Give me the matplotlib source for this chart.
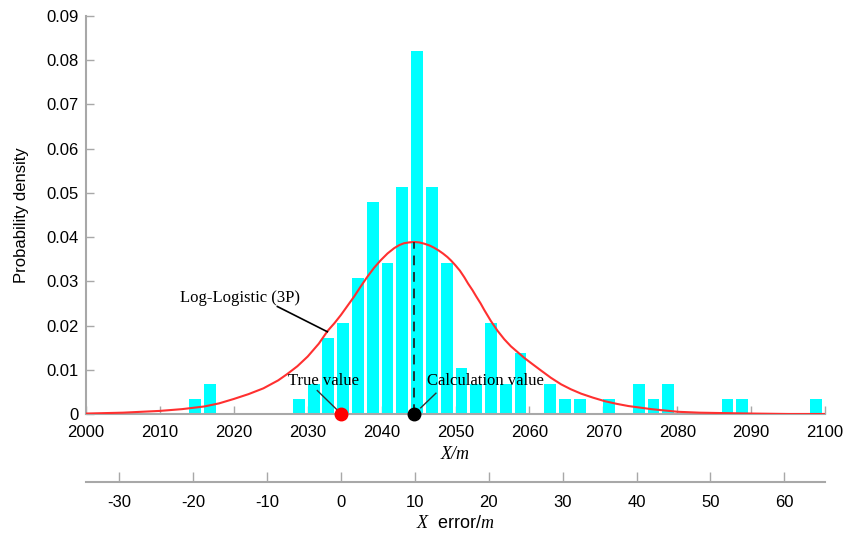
import matplotlib
matplotlib.use('Agg')
import matplotlib.pyplot as plt

# histogram (bin left edge, density), bin width 2
bin_left = [2014, 2016, 2028, 2030, 2032, 2034, 2036, 2038, 2040, 2042, 2044, 2046, 2048,
            2050, 2052, 2054, 2056, 2058, 2062, 2064, 2066, 2070, 2074, 2076, 2078, 2086, 2088, 2098]
density = [0.0034, 0.0068, 0.0034, 0.0068, 0.0171, 0.0205, 0.0308, 0.0479, 0.0342, 0.0513, 0.0821, 0.0513, 0.0342,
           0.0103, 0.0068, 0.0205, 0.0068, 0.0137, 0.0068, 0.0034, 0.0034, 0.0034, 0.0068, 0.0034, 0.0068, 0.0034, 0.0034, 0.0034]

# Log-Logistic (3P) fitted curve
curve_x = [2000, 2005, 2010, 2013, 2016, 2018, 2020, 2022, 2024, 2026, 2027.2, 2028.6, 2030, 2031.5, 2032.7,
           2033.6, 2034.5, 2035.4, 2036.3, 2037.2, 2038.1, 2039.0, 2039.9, 2040.8, 2041.7, 2042.4, 2043.0,
           2043.7, 2044.4, 2045.1, 2045.8, 2046.5, 2047.1, 2047.7, 2048.3, 2048.9, 2049.4, 2050.0, 2050.6,
           2051.2, 2051.7, 2052.3, 2052.8, 2053.4, 2053.9, 2054.8, 2055.7, 2056.6, 2057.5, 2058.4, 2059.3,
           2060.4, 2061.6, 2062.9, 2064.3, 2065.6, 2067, 2068.6, 2070.2, 2071.8, 2073.4, 2076.5,
           2080.1, 2083, 2086.4, 2090, 2095, 2100]
curve_y = [0.0001, 0.0003, 0.0007, 0.0011, 0.0017, 0.0024, 0.0034, 0.0045, 0.0058, 0.0076, 0.0090, 0.0108, 0.0130,
           0.0159, 0.0188, 0.0205, 0.0224, 0.0245, 0.0266, 0.0289, 0.0311, 0.0331, 0.0348, 0.0363, 0.0375, 0.0382, 0.0386,
           0.0388, 0.0389, 0.0388, 0.0385, 0.0381, 0.0376, 0.0370, 0.0363, 0.0355, 0.0347, 0.0336, 0.0324,
           0.0309, 0.0295, 0.0280, 0.0266, 0.0250, 0.0235, 0.0210, 0.0188, 0.0169, 0.0153, 0.0140, 0.0127,
           0.0113, 0.0098, 0.0082, 0.0067, 0.0056, 0.0046, 0.0037, 0.0029, 0.0023, 0.0018, 0.0011,
           0.0005, 0.0003, 0.0002, 0.0001, 0.0000, 0.0000]

true_x = 2034.5
calc_x = 2044.4
calc_peak = 0.0389

x_ticks = list(range(2000, 2101, 10))
y_ticks = [0, 0.01, 0.02, 0.03, 0.04, 0.05, 0.06, 0.07, 0.08, 0.09]
y_ticklabels = ['0', '0.01', '0.02', '0.03', '0.04', '0.05', '0.06', '0.07', '0.08', '0.09']
err_ticks = list(range(-30, 61, 10))

plt.rcParams['font.family'] = 'Liberation Sans'
plt.rcParams['axes.unicode_minus'] = False
plt.rcParams['mathtext.fontset'] = 'custom'
plt.rcParams['mathtext.rm'] = 'Liberation Serif'
plt.rcParams['mathtext.it'] = 'Liberation Serif:italic'
GRAY = '#a8a8a8'
SERIF = 'Liberation Serif'

fig = plt.figure(figsize=(8.47, 5.34), dpi=100)
ax = fig.add_axes([86/847, 1-414/534, (825-86)/847, (414-16)/534])

ax.bar(bin_left, density, width=1.6, align='edge', color='#00ffff', zorder=2)
ax.plot(curve_x, curve_y, color='#ff3030', lw=1.5, zorder=3)
ax.plot([calc_x, calc_x], [0, calc_peak], color='#1c3434', lw=1.4, ls=(0, (5, 3.5)), zorder=4)
ax.plot([true_x], [0], 'o', color='#ff0000', ms=9, clip_on=False, zorder=6)
ax.plot([calc_x], [0], 'o', color='black', ms=9, clip_on=False, zorder=6)

# annotations
ax.text(2012.75, 0.0262, 'Log-Logistic (3P)', family=SERIF, fontsize=12, ha='left', va='center', zorder=5)
ax.plot([2025.9, 2032.66], [0.0243, 0.0186], color='black', lw=1.2, zorder=5)
ax.text(2027.4, 0.0075, 'True value', family=SERIF, fontsize=12, ha='left', va='center', zorder=5)
ax.plot([2031.3, 2034.0], [0.0053, 0.0009], color='#333333', lw=1.0, zorder=5)
ax.text(2046.1, 0.0075, 'Calculation value', family=SERIF, fontsize=12, ha='left', va='center', zorder=5)
ax.plot([2047.35, 2045.3], [0.0047, 0.0014], color='#333333', lw=1.0, zorder=5)

ax.set_xlim(2000, 2100); ax.set_ylim(0, 0.09)
ax.set_xticks(x_ticks); ax.set_yticks(y_ticks); ax.set_yticklabels(y_ticklabels)
for s in ['top', 'right']:
    ax.spines[s].set_visible(False)
for s in ['left', 'bottom']:
    ax.spines[s].set_color(GRAY); ax.spines[s].set_linewidth(1.5)
ax.tick_params(direction='in', length=6, width=1, color=GRAY, labelsize=12)
ax.tick_params(axis='x', pad=8)
ax.tick_params(axis='y', pad=5)
ax.set_ylabel('Probability density', fontsize=12, labelpad=13)
ax.set_xlabel('X/m', family=SERIF, fontstyle='italic', fontsize=13, labelpad=4)

# secondary error axis
sec = ax.secondary_xaxis(-0.171, functions=(lambda x: x - true_x, lambda x: x + true_x))
sec.set_xticks(err_ticks)
sec.spines['bottom'].set_color(GRAY); sec.spines['bottom'].set_linewidth(1.5)
sec.tick_params(direction='in', length=7, width=1, color=GRAY, labelsize=12, pad=9)
sec.set_xlabel(r'$X$  error/$m$', fontsize=13, labelpad=4)

fig.savefig('out.png', dpi=100)
